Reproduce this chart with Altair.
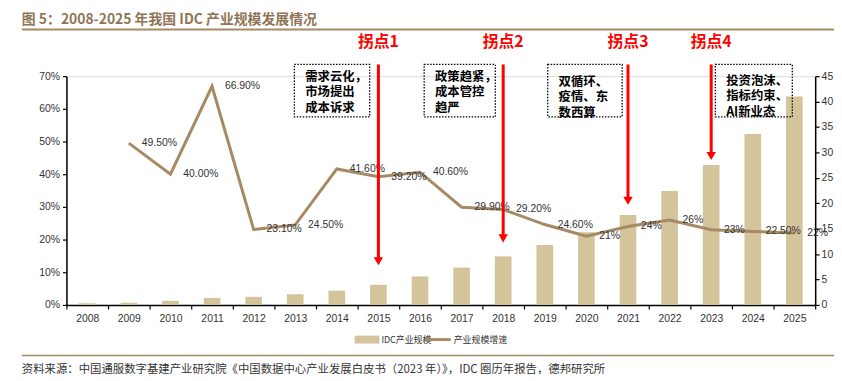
import altair as alt
import pandas as pd

# ---------------- data ----------------
years = [str(y) for y in range(2008, 2026)]
idc_scale = [0.33, 0.45, 0.8, 1.36, 1.6, 2.1, 2.8, 3.95, 5.6, 7.35, 9.55, 11.8,
             14.3, 17.7, 22.4, 27.5, 33.6, 41.0]
growth = [None, 49.5, 40.0, 66.9, 23.1, 24.5, 41.6, 39.2, 40.6, 29.9, 29.2, 24.6,
          21.0, 24.0, 26.0, 23.0, 22.5, 22.0]
growth_labels = ["", "49.50%", "40.00%", "66.90%", "23.10%", "24.50%", "41.60%",
                 "39.20%", "40.60%", "29.90%", "29.20%", "24.60%", "21%", "24%",
                 "26%", "23%", "22.50%", "22%"]

turn_years = ["2015", "2018", "2021", "2023"]
turn_labels = ["拐点1", "拐点2", "拐点3", "拐点4"]
box_texts = ["需求云化，\n市场提出\n成本诉求",
             "政策趋紧，\n成本管控\n趋严",
             "双循环、\n疫情、东\n数西算",
             "投资泡沫、\n指标约束、\nAI新业态"]

title_text = "图 5：2008-2025 年我国 IDC 产业规模发展情况"
source_text = "资料来源：中国通服数字基建产业研究院《中国数据中心产业发展白皮书（2023 年）》，IDC 圈历年报告，德邦研究所"
legend_names = ["IDC产业规模", "产业规模增速"]

# ---------------- annotation layout (band units / right-axis units) ----------------
arrow_tips = [7.8, 12.3, 19.7, 28.5]
arrow_top = 47.3
box_x = [(5.48, 7.29), (8.6, 10.31), (11.57, 13.36), (15.6, 17.45)]
box_top, box_bottom = 47.3, 37.0
box_text_top = [46.0, 46.0, 45.0, 45.2]
turn_label_y = 51.8

BAR = "#D4C49B"
LINE = "#A68A64"
TITLE = "#8E7556"
TXT = "#333333"
FONT = "Liberation Sans"
CJK = "Noto Sans CJK SC"

W, H = 756, 231

df = pd.DataFrame({"year": years, "idc": idc_scale})
gdf = pd.DataFrame({"year": years, "g": growth, "lab": growth_labels}).dropna()

xscale = alt.Scale(domain=years, paddingInner=0, paddingOuter=0)
xaxis = alt.Axis(title=None, labelAngle=0, tickBand="extent", tickSize=4,
                 domainColor="black", domainWidth=1.5, tickColor="black",
                 tickWidth=1.2, labelFont=FONT, labelFontSize=10.5,
                 labelColor=TXT, labelPadding=5)
xenc = alt.X("year:N", sort=years, scale=xscale, axis=xaxis)

bars = alt.Chart(df).mark_bar(color=BAR, width=alt.RelativeBandSize(0.4)).encode(
    x=xenc,
    y=alt.Y("idc:Q", scale=alt.Scale(domain=[0, 45], nice=False),
            axis=alt.Axis(orient="right", values=list(range(0, 50, 5)), title=None,
                          grid=False, tickSize=4, domainColor="black", domainWidth=1.5,
                          tickColor="black", tickWidth=1.2, labelFont=FONT,
                          labelFontSize=10.5, labelColor=TXT, labelPadding=2)),
)

line = alt.Chart(gdf).mark_line(color=LINE, strokeWidth=3).encode(
    x=xenc,
    y=alt.Y("g:Q", scale=alt.Scale(domain=[0, 70], nice=False),
            axis=alt.Axis(orient="left", values=list(range(0, 80, 10)), title=None,
                          grid=False, labelExpr="datum.value + '%'", tickSize=4,
                          domainColor="black", domainWidth=1.5, tickColor="black",
                          tickWidth=1.2, labelFont=FONT, labelFontSize=10.5,
                          labelColor=TXT, labelPadding=3)),
)

labels = alt.Chart(gdf).mark_text(align="left", baseline="middle", dx=13,
                                  font=FONT, fontSize=10.5, color=TXT).encode(
    x=xenc,
    y=alt.Y("g:Q", scale=alt.Scale(domain=[0, 70], nice=False), axis=None),
    text="lab:N",
)

main = alt.layer(bars, line, labels).resolve_scale(y="independent")

# ---------------- annotations ----------------
ax = alt.Scale(domain=[0, 18], nice=False, zero=False)
ay = alt.Scale(domain=[0, 45], nice=False, zero=False)

adf = pd.DataFrame({
    "x": [years.index(y) + 0.5 for y in turn_years],
    "top": [arrow_top] * 4,
    "tip": arrow_tips,
    "head": [t + 0.8 for t in arrow_tips],
    "label": turn_labels,
    "ly": [turn_label_y] * 4,
    "bx": [b[0] for b in box_x],
    "bx2": [b[1] for b in box_x],
    "by": [box_top] * 4,
    "by2": [box_bottom] * 4,
    "tx": [b[0] + 0.26 for b in box_x],
    "ty": box_text_top,
    "text": box_texts,
})

base = alt.Chart(adf)
arrows = base.mark_rule(color="#FF0000", strokeWidth=3).encode(
    x=alt.X("x:Q", scale=ax, axis=None),
    y=alt.Y("top:Q", scale=ay, axis=None), y2="head:Q")
heads = base.mark_point(shape="triangle-down", filled=True, color="#FF0000",
                        size=90, opacity=1).encode(
    x=alt.X("x:Q", scale=ax, axis=None),
    y=alt.Y("head:Q", scale=ay, axis=None))
turn_txt = base.mark_text(color="#FF0000", fontSize=16, fontWeight="bold",
                          font=CJK, baseline="middle").encode(
    x=alt.X("x:Q", scale=ax, axis=None),
    y=alt.Y("ly:Q", scale=ay, axis=None), text="label:N")
boxes = base.mark_rect(fillOpacity=0, stroke="black", strokeWidth=1.3,
                       strokeDash=[1.5, 1.5]).encode(
    x=alt.X("bx:Q", scale=ax, axis=None), x2="bx2:Q",
    y=alt.Y("by:Q", scale=ay, axis=None), y2="by2:Q")
box_txt = base.mark_text(align="left", baseline="top", lineBreak="\n",
                         lineHeight=15.5, fontSize=12.5, fontWeight="bold",
                         font=CJK, color="black").encode(
    x=alt.X("tx:Q", scale=ax, axis=None),
    y=alt.Y("ty:Q", scale=ay, axis=None), text="text:N")

# ---------------- decorations (pixel offsets from plot origin) ----------------
one = pd.DataFrame({"a": [0]})
dec = alt.Chart(one)
title = dec.mark_text(align="left", baseline="middle", fontSize=14, fontWeight="bold",
                      font=CJK, color=TITLE, text=title_text).encode(
    x=alt.value(-45), y=alt.value(-57))
title_rule = dec.mark_rule(color=LINE, strokeWidth=2).encode(
    x=alt.value(-45), x2=alt.value(775), y=alt.value(-47))
leg_rect = dec.mark_rect(color=BAR).encode(
    x=alt.value(291), x2=alt.value(316), y=alt.value(262), y2=alt.value(270))
leg_t1 = dec.mark_text(align="left", baseline="middle", fontSize=9, font=CJK,
                       color=TXT, text=legend_names[0]).encode(
    x=alt.value(318), y=alt.value(266))
leg_line = dec.mark_rule(color=LINE, strokeWidth=3).encode(
    x=alt.value(362), x2=alt.value(388), y=alt.value(266))
leg_t2 = dec.mark_text(align="left", baseline="middle", fontSize=9, font=CJK,
                       color=TXT, text=legend_names[1]).encode(
    x=alt.value(391), y=alt.value(266))
src_rule = dec.mark_rule(color=LINE, strokeWidth=1.5).encode(
    x=alt.value(-45), x2=alt.value(775), y=alt.value(282))
src = dec.mark_text(align="left", baseline="middle", fontSize=11.5, font=CJK,
                    color=TXT, text=source_text).encode(
    x=alt.value(-45), y=alt.value(297))

annot = alt.layer(boxes, arrows, heads, turn_txt, box_txt)
decor = alt.layer(title, title_rule, leg_rect, leg_t1, leg_line, leg_t2, src_rule, src)

chart = alt.layer(main, annot, decor).resolve_scale(
    x="independent", y="independent"
).properties(
    width=W, height=H,
    autosize=alt.AutoSizeParams(type="none"),
    padding={"left": 59, "top": 67, "right": 19, "bottom": 75},
).configure_view(stroke=None).configure(background="white")

chart.save("out.html", embed_options={"renderer": "svg", "actions": False})
